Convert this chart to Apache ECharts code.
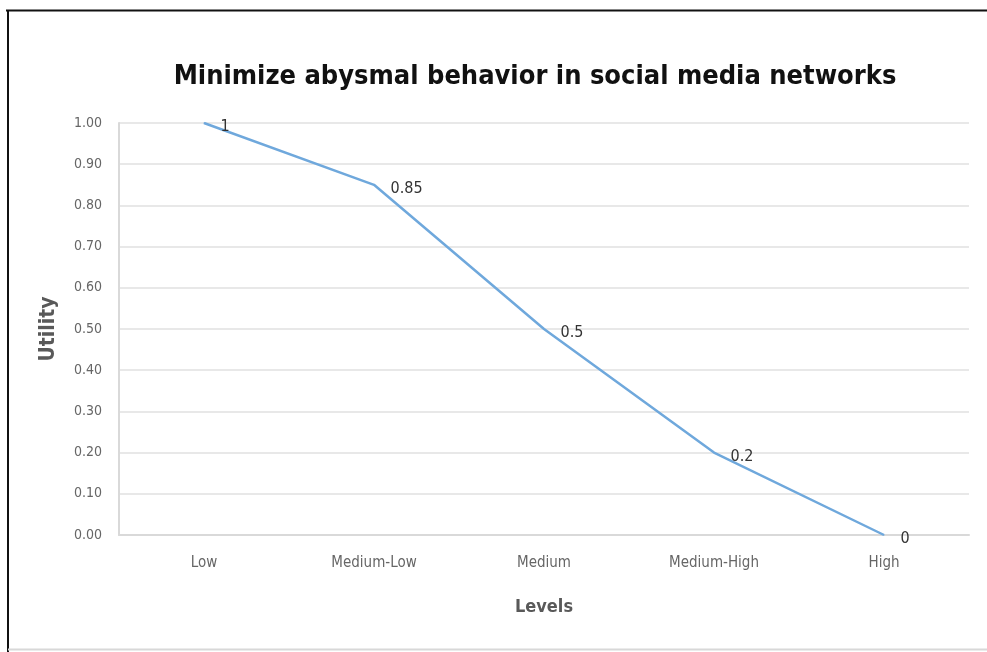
<!DOCTYPE html>
<html>
<head>
<meta charset="utf-8">
<script src="https://cdn.jsdelivr.net/npm/echarts@6/dist/echarts.min.js"></script>
<style>
  html, body { margin: 0; padding: 0; background: #fff; }
  #chart { width: 987px; height: 652px; }
</style>
</head>
<body>
<div id="chart"></div>
<script>
// Utility curve across behaviour levels
const levels = ['Low', 'Medium-Low', 'Medium', 'Medium-High', 'High'];
const utility = [1, 0.85, 0.5, 0.2, 0];
const yTicks = { min: 0, max: 1, step: 0.1 };

const narrow = '"Liberation Sans Narrow", "DejaVu Sans Condensed", "Open Sans", sans-serif';

const chart = echarts.init(document.getElementById('chart'), null, { renderer: 'canvas' });

chart.setOption({
  backgroundColor: '#ffffff',
  animation: false,
  title: {
    text: 'Minimize abysmal behavior in social media networks',
    left: 530,
    textAlign: 'center',
    top: 58,
    textStyle: { fontFamily: narrow, fontSize: 27, fontWeight: 'bold', color: '#111111' }
  },
  graphic: [
    { type: 'line', shape: { x1: 6, y1: 10.5, x2: 987, y2: 10.5 }, style: { stroke: '#111', lineWidth: 2 } },
    { type: 'line', shape: { x1: 8, y1: 10, x2: 8, y2: 652 }, style: { stroke: '#111', lineWidth: 2 } },
    { type: 'line', shape: { x1: 8, y1: 649.5, x2: 987, y2: 649.5 }, style: { stroke: '#d8d8d8', lineWidth: 2 } }
  ],
  grid: { left: 119, right: 18, top: 123, bottom: 117, containLabel: false },
  xAxis: {
    type: 'category',
    data: levels,
    boundaryGap: true,
    name: 'Levels',
    nameLocation: 'middle',
    nameGap: 63,
    nameTextStyle: { fontFamily: narrow, fontSize: 18, fontWeight: 'bold', color: '#595959' },
    axisLine: { show: true, lineStyle: { color: '#d9d9d9', width: 2 } },
    axisTick: { show: false },
    axisLabel: { margin: 21, fontFamily: narrow, fontSize: 15, color: '#666666' }
  },
  yAxis: {
    type: 'value',
    min: yTicks.min,
    max: yTicks.max,
    interval: yTicks.step,
    name: 'Utility',
    nameLocation: 'middle',
    nameGap: 60,
    nameRotate: 90,
    nameTextStyle: { fontFamily: narrow, fontSize: 21, fontWeight: 'bold', color: '#595959' },
    axisLine: { show: true, lineStyle: { color: '#d9d9d9', width: 2 } },
    axisTick: { show: false },
    axisLabel: {
      margin: 17,
      fontFamily: narrow,
      fontSize: 14,
      color: '#666666',
      formatter: v => v.toFixed(2)
    },
    splitLine: { show: true, lineStyle: { color: '#e8e8e8', width: 2 } }
  },
  series: [{
    type: 'line',
    data: utility,
    showSymbol: true,
    symbol: 'circle',
    symbolSize: 1,
    itemStyle: { color: '#6fa8dc' },
    lineStyle: { color: '#6fa8dc', width: 2.5 },
    label: {
      show: true,
      position: 'right',
      distance: 16,
      offset: [0, 4],
      fontFamily: narrow,
      fontSize: 16,
      color: '#333333',
      formatter: p => String(p.value)
    }
  }]
});
</script>
</body>
</html>
